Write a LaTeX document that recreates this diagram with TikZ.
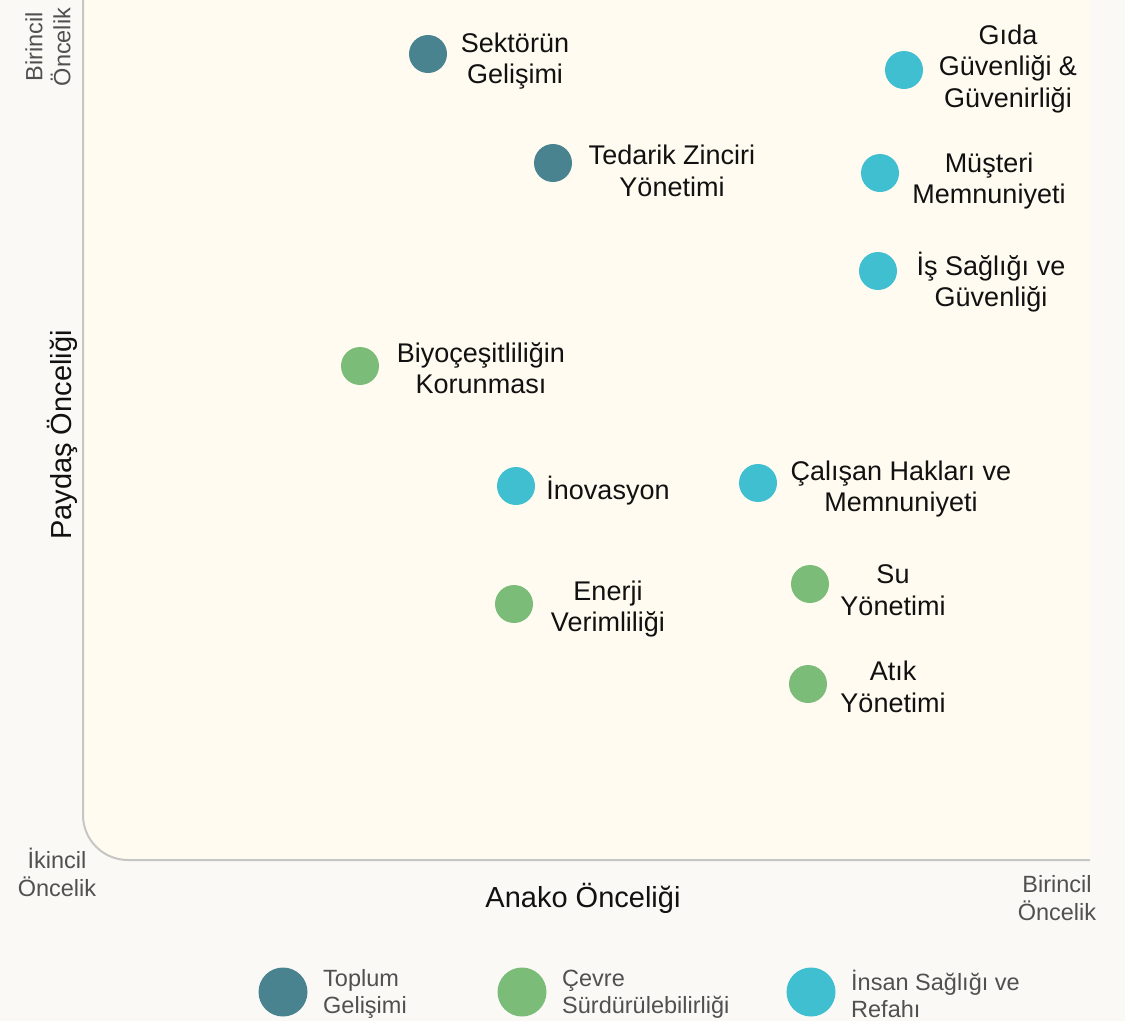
\documentclass[tikz,border=0pt]{standalone}
\usepackage{fontspec}
\setmainfont{Liberation Sans}
\definecolor{pagebg}{HTML}{FBF9F6}
\definecolor{cream}{HTML}{FFFBF1}
\definecolor{axisgrey}{HTML}{C6C6C4}
\definecolor{toplum}{HTML}{4A8390}
\definecolor{cevre}{HTML}{7BBC78}
\definecolor{insan}{HTML}{3FBFD0}
\definecolor{smallgrey}{HTML}{505050}
\definecolor{labelblack}{HTML}{111111}
\tikzset{
  dot/.style={circle, inner sep=0pt, minimum size=38pt},
  legdot/.style={circle, inner sep=0pt, minimum size=49pt},
  lbl/.style={align=center, inner sep=0pt, text=labelblack, font=\fontsize{27}{31.5}\selectfont},
  smalllbl/.style={align=center, inner sep=0pt, text=smallgrey, font=\fontsize{23.5}{28}\selectfont},
  axlbl/.style={inner sep=0pt, text=labelblack, font=\fontsize{29}{34}\selectfont},
  leglbl/.style={align=left, anchor=west, inner sep=0pt, text=smallgrey, font=\fontsize{23.5}{27}\selectfont},
}
\begin{document}
\begin{tikzpicture}[x=1pt, y=-1pt]
\useasboundingbox (0,0) rectangle (1125,1021);
\fill[pagebg] (0,0) rectangle (1125,1021);
% panel
\fill[cream] (83,0) -- (83,815) arc[start angle=180, end angle=90, radius=45] -- (1090,860) -- (1090,0) -- cycle;
\draw[axisgrey, line width=2pt] (83,0) -- (83,815) arc[start angle=180, end angle=90, radius=45] -- (1090,860);

% axis labels
\node[smalllbl, rotate=90] (ytop) at (48,47) {Birincil\\Öncelik};
\node[smalllbl] (ybot) at (57,872) {İkincil\\Öncelik};
\node[smalllbl] (xright) at (1057,898) {Birincil\\Öncelik};
\node[axlbl] (xlab) at (583,898) {Anako Önceliği};
\node[axlbl, rotate=90] (ylab) at (62,435) {Paydaş Önceliği};

% data points
\node[dot, fill=toplum] (p1) at (428,54) {};
\node[lbl] (t1) at (515,61) {Sektörün\\Gelişimi};
\node[dot, fill=toplum] (p2) at (553,163) {};
\node[lbl] (t2) at (672,171) {Tedarik Zinciri\\Yönetimi};
\node[dot, fill=insan] (p3) at (904,70) {};
\node[lbl] (t3) at (1008,69) {Gıda\\Güvenliği \&\\Güvenirliği};
\node[dot, fill=insan] (p4) at (880,173) {};
\node[lbl] (t4) at (989,181) {Müşteri\\Memnuniyeti};
\node[dot, fill=insan] (p5) at (878,271) {};
\node[lbl] (t5) at (991,282) {İş Sağlığı ve\\Güvenliği};
\node[dot, fill=cevre] (p6) at (360,366) {};
\node[lbl] (t6) at (481,368) {Biyoçeşitliliğin\\Korunması};
\node[dot, fill=insan] (p7) at (516,486) {};
\node[lbl] (t7) at (608,491) {İnovasyon};
\node[dot, fill=insan] (p8) at (758,483) {};
\node[lbl] (t8) at (901,489) {Çalışan Hakları ve\\Memnuniyeti};
\node[dot, fill=cevre] (p9) at (514,604) {};
\node[lbl] (t9) at (608,609) {Enerji\\Verimliliği};
\node[dot, fill=cevre] (p10) at (810,584) {};
\node[lbl] (t10) at (893,590) {Su\\Yönetimi};
\node[dot, fill=cevre] (p11) at (808,684) {};
\node[lbl] (t11) at (893,687) {Atık\\Yönetimi};

% legend
\node[legdot, fill=toplum] (l1) at (283,992) {};
\node[leglbl] (lt1) at (323,994) {Toplum\\Gelişimi};
\node[legdot, fill=cevre] (l2) at (522,992) {};
\node[leglbl] (lt2) at (562,994) {Çevre\\Sürdürülebilirliği};
\node[legdot, fill=insan] (l3) at (811,992) {};
\node[leglbl] (lt3) at (851,994) {İnsan Sağlığı ve\\Refahı};
\end{tikzpicture}
\end{document}
